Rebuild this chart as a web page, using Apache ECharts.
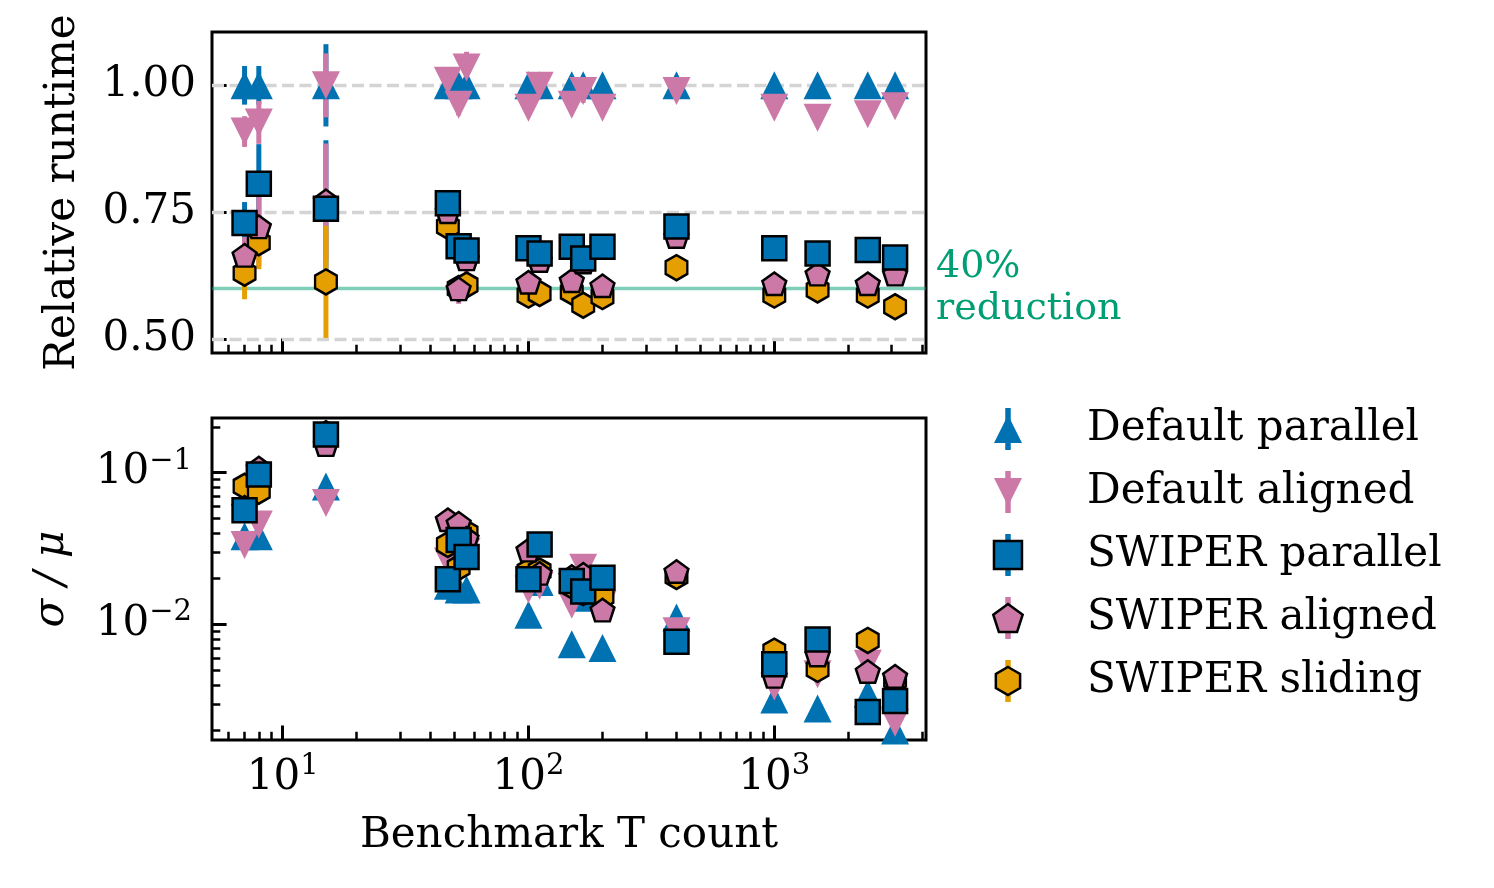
<!DOCTYPE html>
<html><head><meta charset="utf-8">
<script src="https://cdn.jsdelivr.net/npm/echarts@6/dist/echarts.min.js"></script>
<style>html,body{margin:0;padding:0;background:#fff}#c{width:1494px;height:888px}</style>
</head><body><div id="c"></div>
<script>
// ---------------- data ----------------
const tCounts = [7, 8, 15, 47, 52, 56, 100, 111, 150, 167, 200, 400, 1000, 1500, 2400, 3100];
const seriesNames = ['Default parallel', 'Default aligned', 'SWIPER parallel', 'SWIPER aligned', 'SWIPER sliding'];
// relative runtime (top panel)
const runtimeDefaultParallel = [1, 1, 1, 1, 1, 1, 1, 1, 1, 1, 1, 1, 1, 1, 1, 1];
const runtimeDefaultAligned  = [0.909, 0.927, 1.000, 1.009, 0.962, 1.035, 0.956, 0.999, 0.962, 0.989, 0.956, 0.989, 0.956, 0.936, 0.943, 0.959];
const runtimeSwiperParallel  = [0.729, 0.806, 0.757, 0.768, 0.683, 0.675, 0.679, 0.669, 0.682, 0.659, 0.682, 0.722, 0.679, 0.669, 0.676, 0.661];
const runtimeSwiperAligned   = [0.663, 0.719, 0.770, 0.749, 0.597, 0.656, 0.610, 0.653, 0.613, 0.650, 0.603, 0.700, 0.607, 0.626, 0.607, 0.626];
const runtimeSwiperSliding   = [0.630, 0.690, 0.613, 0.722, 0.600, 0.607, 0.587, 0.590, 0.593, 0.567, 0.584, 0.641, 0.587, 0.597, 0.587, 0.564];
// coefficient of variation sigma/mu (bottom panel)
const cvDefaultParallel = [0.038, 0.038, 0.081, 0.018, 0.017, 0.017, 0.0116, 0.019, 0.0074, 0.015, 0.0070, 0.0111, 0.0032, 0.0028, 0.0035, 0.0020];
const cvDefaultAligned  = [0.0333, 0.0455, 0.063, 0.026, 0.022, 0.030, 0.017, 0.018, 0.0135, 0.0236, 0.0135, 0.0090, 0.0039, 0.0047, 0.0055, 0.00225];
const cvSwiperParallel  = [0.0565, 0.097, 0.178, 0.0198, 0.036, 0.0278, 0.0198, 0.0336, 0.0193, 0.0165, 0.0203, 0.0077, 0.00546, 0.00796, 0.00265, 0.00313];
const cvSwiperAligned   = [0.058, 0.105, 0.150, 0.048, 0.0455, 0.0362, 0.0303, 0.0213, 0.0203, 0.021, 0.0122, 0.0219, 0.00447, 0.00618, 0.00481, 0.00447];
const cvSwiperSliding   = [0.0813, 0.0753, 0.180, 0.0336, 0.0237, 0.040, 0.0224, 0.0225, 0.0179, 0.0162, 0.0153, 0.0207, 0.00667, 0.00506, 0.00785, 0.0043];
// ticks
const tMajorTicks = [10, 100, 1000];
const tMinorTicks = [6, 7, 8, 9, 20, 30, 40, 50, 60, 70, 80, 90, 200, 300, 400, 500, 600, 700, 800, 900, 2000, 3000, 4000];
const runtimeTicks = [0.5, 0.75, 1.0];
const cvMajorTicks = [0.01, 0.1];
const cvMinorTicks = [0.002, 0.003, 0.004, 0.005, 0.006, 0.007, 0.008, 0.009, 0.02, 0.03, 0.04, 0.05, 0.06, 0.07, 0.08, 0.09, 0.2];
const reductionLevel = 0.6;
const reductionLabel = '40%\nreduction';

// ---------------- styling ----------------
const FONT = 'DejaVu Serif';
const FS = 42;
const BLUE = '#0072B2', PINK = '#CC79A7', ORANGE = '#E69F00', GREEN = '#009E73';
const X_MIN = 5.16, X_MAX = 4141;
const Y1_MIN = 0.473, Y1_MAX = 1.105;
const Y2_MIN = 0.001734, Y2_MAX = 0.2286;

const TRI_UP = 'path://M1,0L2,2L0,2Z';
const TRI_DOWN = 'path://M0,0L2,0L1,2Z';
const SQUARE = 'path://M0,0L1,0L1,1L0,1Z';
const PENTAGON = 'path://M0,-1L0.9511,-0.309L0.5878,0.809L-0.5878,0.809L-0.9511,-0.309Z';
const HEXAGON = 'path://M0,-1L0.866,-0.5L0.866,0.5L0,1L-0.866,0.5L-0.866,-0.5Z';

const seriesDefs = [
  {name: seriesNames[0], rt: runtimeDefaultParallel, cv: cvDefaultParallel, color: BLUE, symbol: TRI_UP, size: 28, border: 0, offset: [0, 0], z: 10},
  {name: seriesNames[1], rt: runtimeDefaultAligned, cv: cvDefaultAligned, color: PINK, symbol: TRI_DOWN, size: 28, border: 0, offset: [0, 0], z: 11},
  {name: seriesNames[2], rt: runtimeSwiperParallel, cv: cvSwiperParallel, color: BLUE, symbol: SQUARE, size: 24, border: 2.5, offset: [0, 0], z: 14},
  {name: seriesNames[3], rt: runtimeSwiperAligned, cv: cvSwiperAligned, color: PINK, symbol: PENTAGON, size: [23.8, 22.6], border: 2.5, offset: [0, -1.2], z: 13},
  {name: seriesNames[4], rt: runtimeSwiperSliding, cv: cvSwiperSliding, color: ORANGE, symbol: HEXAGON, size: [21.7, 25], border: 2.5, offset: [0, 0], z: 12}
];

function powLabel(v) {
  const e = Math.round(Math.log10(v));
  return '{b|10}{s|' + String(e).replace('-', '\u2212') + '}';
}
const powRich = {
  b: {fontFamily: FONT, fontSize: FS, lineHeight: 52, color: '#000'},
  s: {fontFamily: FONT, fontSize: 29, lineHeight: 30, verticalAlign: 'top', color: '#000'}
};

function logX(gridIndex, major, showLabels) {
  const ax = {
    type: 'log', gridIndex: gridIndex, min: X_MIN, max: X_MAX, position: 'bottom',
    axisLine: {show: false}, splitLine: {show: false}, minorTick: {show: false}, minorSplitLine: {show: false},
    axisPointer: {show: false}
  };
  if (major) {
    ax.axisTick = {show: true, inside: true, length: 14.6, lineStyle: {color: '#000', width: 3}, customValues: tMajorTicks};
    ax.axisLabel = showLabels ? {show: true, customValues: tMajorTicks, margin: 12, formatter: powLabel, rich: powRich} : {show: false};
    if (showLabels) {
      ax.name = 'Benchmark T count';
      ax.nameLocation = 'middle';
      ax.nameGap = 75;
      ax.nameTextStyle = {fontFamily: FONT, fontSize: FS, color: '#000'};
    }
  } else {
    ax.axisTick = {show: true, inside: true, length: 8.3, lineStyle: {color: '#000', width: 2.5}, customValues: tMinorTicks};
    ax.axisLabel = {show: false};
  }
  return ax;
}

const xAxes = [logX(0, true, false), logX(0, false, false), logX(1, true, true), logX(1, false, false)];

const yAxes = [
  {
    type: 'value', gridIndex: 0, min: Y1_MIN, max: Y1_MAX, position: 'left',
    axisLine: {show: false}, splitLine: {show: false},
    axisTick: {show: true, inside: true, length: 14.6, lineStyle: {color: '#000', width: 3}, customValues: runtimeTicks},
    axisLabel: {show: true, customValues: runtimeTicks, margin: 16, fontFamily: FONT, fontSize: FS, color: '#000', formatter: v => v.toFixed(2)},
    name: 'Relative runtime', nameLocation: 'middle', nameRotate: 90, nameGap: 128,
    nameTextStyle: {fontFamily: FONT, fontSize: FS, color: '#000'}
  },
  {
    type: 'log', gridIndex: 1, min: Y2_MIN, max: Y2_MAX, position: 'left',
    axisLine: {show: false}, splitLine: {show: false}, minorTick: {show: false},
    axisTick: {show: true, inside: true, length: 14.6, lineStyle: {color: '#000', width: 3}, customValues: cvMajorTicks},
    axisLabel: {show: true, customValues: cvMajorTicks, margin: 20, formatter: powLabel, rich: powRich},
    name: '\u03c3 / \u03bc', nameLocation: 'middle', nameRotate: 90, nameGap: 139,
    nameTextStyle: {fontFamily: FONT, fontSize: FS, color: '#000', fontStyle: 'italic'}
  },
  {
    type: 'log', gridIndex: 1, min: Y2_MIN, max: Y2_MAX, position: 'left',
    axisLine: {show: false}, splitLine: {show: false}, minorTick: {show: false},
    axisTick: {show: true, inside: true, length: 8.3, lineStyle: {color: '#000', width: 2.5}, customValues: cvMinorTicks},
    axisLabel: {show: false}
  }
];

const series = [];
// reference lines (drawn below data)
series.push({
  type: 'line', name: 'refLines', xAxisIndex: 0, yAxisIndex: 0, data: [], silent: true, z: 1,
  markLine: {
    symbol: 'none', silent: true, animation: false, z: 1,
    data: [
      ...runtimeTicks.map(v => ({yAxis: v, lineStyle: {color: '#d4d4d4', width: 3.3, type: [12, 5.5]}, label: {show: false}})),
      {yAxis: reductionLevel, lineStyle: {color: 'rgba(0,158,115,0.5)', width: 3.3, type: 'solid'},
       label: {show: true, position: 'end', distance: 10, formatter: reductionLabel, color: GREEN,
               fontFamily: FONT, fontSize: 38, lineHeight: 42, align: 'left'}}
    ]
  }
});
// error bars (top panel)
seriesDefs.forEach((d) => {
  series.push({
    type: 'custom', name: d.name + ' error', xAxisIndex: 0, yAxisIndex: 0, z: 5, silent: true,
    data: tCounts.map((t, i) => [t, d.rt[i] * (1 - d.cv[i]), d.rt[i] * (1 + d.cv[i])]),
    encode: {x: 0, y: [1, 2]},
    renderItem: (params, api) => {
      const p1 = api.coord([api.value(0), api.value(1)]);
      const p2 = api.coord([api.value(0), api.value(2)]);
      return {type: 'line', shape: {x1: p1[0], y1: p1[1], x2: p2[0], y2: p2[1]}, style: {stroke: d.color, lineWidth: 5}};
    }
  });
});
// markers
seriesDefs.forEach((d) => {
  const common = {
    type: 'scatter', name: d.name, symbol: d.symbol, symbolSize: d.size, symbolOffset: d.offset, z: d.z, silent: true,
    itemStyle: {color: d.color, opacity: 1, borderColor: '#000', borderWidth: d.border}
  };
  series.push(Object.assign({}, common, {xAxisIndex: 0, yAxisIndex: 0, data: tCounts.map((t, i) => [t, d.rt[i]])}));
  series.push(Object.assign({}, common, {xAxisIndex: 2, yAxisIndex: 1, data: tCounts.map((t, i) => [t, d.cv[i]])}));
});

const LEG_LEFT = 992, LEG_TOP = 408, LEG_ROW = 63, ICON_X = 1008;
const legendBars = seriesDefs.map((d, i) => ({
  type: 'rect', z: 1, silent: true,
  shape: {x: ICON_X - 2.75, y: LEG_TOP + i * LEG_ROW, width: 5.5, height: 42},
  style: {fill: d.color}
}));

const option = {
  animation: false,
  backgroundColor: '#fff',
  grid: [
    {left: 212, top: 32, width: 714, height: 321, show: true, borderColor: '#000', borderWidth: 3, backgroundColor: 'transparent', containLabel: false, outerBoundsMode: 'none'},
    {left: 212, top: 418, width: 714, height: 322, show: true, borderColor: '#000', borderWidth: 3, backgroundColor: 'transparent', containLabel: false, outerBoundsMode: 'none'}
  ],
  xAxis: xAxes,
  yAxis: yAxes,
  legend: {
    show: true, orient: 'vertical', left: LEG_LEFT, top: LEG_TOP, z: 10,
    itemWidth: 148, itemHeight: 28, itemGap: LEG_ROW - 42, padding: 0,
    selectedMode: false,
    textStyle: {fontFamily: FONT, fontSize: FS, color: '#000', lineHeight: 42},
    data: seriesDefs.map(d => ({name: d.name, icon: d.symbol, itemStyle: {color: d.color, borderColor: '#000', borderWidth: d.border}}))
  },
  graphic: legendBars,
  series: series
};

const chart = echarts.init(document.getElementById('c'), null, {renderer: 'canvas'});
chart.setOption(option);
</script>
</body></html>
